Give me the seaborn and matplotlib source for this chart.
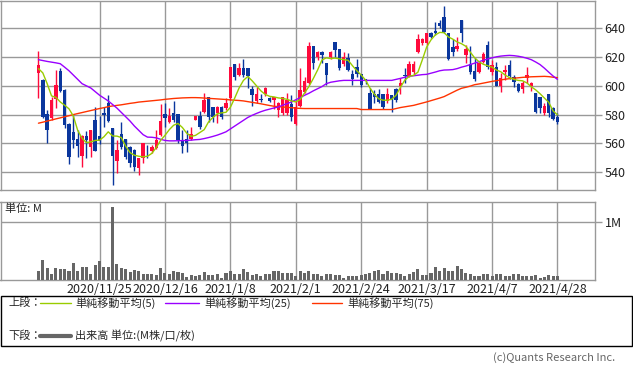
import numpy as np
import pandas as pd
import matplotlib
matplotlib.use("Agg")
import matplotlib.pyplot as plt
import seaborn as sns
from matplotlib.patches import Rectangle
from matplotlib.lines import Line2D

# ---------------- data ----------------
opens = [609.2, 604.1, 580.2, 577.4, 590.6, 610.3, 597.1, 573.5, 567.7, 562.8,
         551.3, 565.2, 557.7, 576.3, 565.0, 581.0, 588.0, 570.5, 547.8, 566.8,
         562.8, 557.7, 555.4, 542.7, 549.6, 555.4, 554.7, 557.0, 565.9, 580.2,
         575.1, 581.0, 580.2, 562.4, 562.8, 562.8, 576.3, 579.1, 582.1, 592.0,
         585.0, 580.9, 585.5, 584.4, 591.8, 615.2, 607.6, 612.4, 612.4, 597.6,
         589.7, 590.4, 594.4, 591.8, 590.2, 583.2, 581.0, 581.0, 587.4, 573.5,
         586.0, 596.0, 601.8, 627.7, 619.8, 623.8, 615.7, 619.8, 630.3, 625.4,
         615.2, 619.1, 608.3, 613.4, 608.3, 604.8, 594.8, 594.4, 594.0, 594.0,
         589.7, 593.7, 597.6, 599.9, 607.0, 606.9, 609.9, 623.3, 629.6, 629.6,
         637.0, 638.1, 643.9, 647.6, 637.0, 627.3, 625.4, 645.8, 621.5, 615.2,
         610.3, 609.9, 616.8, 628.4, 609.9, 613.4, 599.9, 609.9, 614.5, 605.9,
         601.3, 597.6, 605.3, 599.9, 594.8, 592.5, 581.0, 594.4, 584.4, 578.6]
highs = [624.5, 604.5, 583.2, 592.5, 611.0, 612.2, 597.5, 574.0, 579.8, 569.3,
         565.8, 568.6, 569.3, 585.5, 579.0, 585.0, 593.5, 571.0, 562.4, 575.0,
         563.0, 558.0, 556.0, 550.0, 560.5, 558.9, 558.9, 569.3, 587.7, 587.9,
         584.9, 589.7, 580.2, 569.3, 569.3, 571.6, 579.1, 582.3, 594.8, 592.0,
         585.0, 586.0, 586.0, 591.3, 613.4, 615.2, 615.7, 618.7, 612.4, 600.0,
         599.0, 594.4, 599.0, 592.5, 592.5, 588.5, 592.5, 594.8, 593.7, 590.2,
         612.2, 606.4, 630.7, 628.0, 624.0, 624.0, 615.7, 624.5, 630.3, 625.4,
         623.8, 623.0, 611.0, 619.0, 608.5, 605.0, 598.3, 597.0, 597.6, 594.0,
         598.3, 593.7, 598.3, 605.3, 612.7, 617.3, 617.3, 635.8, 633.0, 636.5,
         637.7, 644.6, 645.8, 655.5, 637.0, 632.4, 634.2, 645.8, 628.4, 627.7,
         619.1, 616.8, 623.8, 631.2, 618.0, 616.8, 608.7, 614.5, 618.0, 607.6,
         601.8, 603.4, 613.4, 603.0, 594.8, 592.5, 587.9, 594.4, 585.0, 580.9]
lows = [591.8, 577.5, 560.0, 576.0, 584.4, 596.0, 571.0, 545.7, 556.6, 550.8,
        543.8, 549.6, 550.8, 554.3, 559.5, 571.6, 574.5, 531.1, 539.2, 556.0,
        549.0, 543.8, 540.4, 537.6, 546.0, 549.6, 553.6, 556.0, 565.0, 571.6,
        574.0, 575.0, 560.0, 553.6, 554.0, 562.0, 576.0, 570.0, 581.0, 575.0,
        575.1, 574.4, 577.0, 583.0, 590.2, 604.0, 607.0, 606.0, 598.3, 586.0,
        588.0, 589.0, 593.0, 588.5, 584.0, 578.0, 580.0, 580.0, 575.8, 573.0,
        585.5, 595.0, 601.0, 612.0, 618.0, 615.7, 600.6, 619.0, 620.3, 611.0,
        614.0, 610.0, 600.6, 606.0, 599.0, 601.0, 583.9, 588.0, 588.0, 584.0,
        587.9, 582.1, 589.0, 594.1, 601.8, 606.4, 607.6, 622.6, 628.4, 628.4,
        633.0, 635.4, 640.0, 636.5, 618.0, 620.8, 624.0, 630.5, 615.7, 608.0,
        603.6, 609.2, 616.0, 612.0, 607.6, 599.9, 596.0, 604.1, 605.0, 599.0,
        596.0, 594.8, 602.0, 596.7, 581.0, 581.0, 580.0, 578.6, 576.0, 573.5]
closes = [614.5, 578.6, 569.3, 590.2, 600.6, 596.7, 572.8, 550.8, 562.4, 558.4,
          565.2, 562.4, 569.3, 554.3, 561.5, 579.5, 575.5, 551.3, 555.4, 557.7,
          550.8, 546.2, 543.8, 549.6, 560.0, 555.0, 557.7, 562.4, 575.6, 577.9,
          579.1, 576.3, 562.4, 558.2, 560.5, 566.3, 579.1, 571.6, 590.2, 578.6,
          578.6, 585.0, 578.5, 588.3, 613.4, 606.0, 612.2, 607.6, 606.9, 593.7,
          594.4, 590.0, 598.3, 589.7, 592.5, 588.3, 592.0, 590.2, 578.1, 585.5,
          597.1, 603.4, 627.7, 616.1, 623.8, 621.5, 607.6, 623.8, 624.9, 612.2,
          619.8, 611.0, 604.8, 608.3, 600.6, 603.6, 583.9, 592.0, 589.0, 585.5,
          594.1, 590.2, 590.2, 601.8, 606.9, 615.0, 615.0, 632.6, 632.4, 636.5,
          634.2, 636.5, 641.6, 637.7, 618.5, 623.8, 627.7, 637.0, 625.4, 609.9,
          604.8, 616.1, 622.2, 613.4, 614.5, 599.9, 605.3, 611.0, 606.9, 602.9,
          596.7, 601.8, 607.6, 601.8, 582.1, 584.4, 586.0, 580.9, 576.7, 575.1]
volume_m = [0.16, 0.345, 0.21, 0.10, 0.21, 0.18, 0.18, 0.16, 0.29, 0.16,
            0.23, 0.23, 0.10, 0.26, 0.32, 0.23, 0.23, 1.25, 0.28, 0.20,
            0.18, 0.14, 0.17, 0.16, 0.10, 0.10, 0.10, 0.086, 0.21, 0.126,
            0.10, 0.155, 0.14, 0.126, 0.046, 0.086, 0.07, 0.086, 0.14, 0.08,
            0.09, 0.10, 0.04, 0.115, 0.16, 0.10, 0.10, 0.195, 0.14, 0.08,
            0.10, 0.06, 0.10, 0.10, 0.16, 0.15, 0.126, 0.126, 0.12, 0.07,
            0.155, 0.126, 0.155, 0.10, 0.10, 0.06, 0.10, 0.10, 0.08, 0.08,
            0.04, 0.06, 0.06, 0.07, 0.08, 0.10, 0.115, 0.16, 0.17, 0.10,
            0.155, 0.115, 0.115, 0.10, 0.07, 0.10, 0.14, 0.18, 0.08, 0.08,
            0.115, 0.23, 0.155, 0.20, 0.16, 0.16, 0.24, 0.18, 0.126, 0.10,
            0.07, 0.06, 0.10, 0.10, 0.06, 0.10, 0.10, 0.07, 0.06, 0.10,
            0.10, 0.07, 0.07, 0.07, 0.086, 0.04, 0.046, 0.09, 0.075, 0.07]
ma5 = [612, 609, 601.5, 593, 592, 588.8, 586.5, 584, 579, 569,
       563.5, 560.5, 561, 562, 562.2, 564.5, 568, 565.1, 565, 564,
       558, 553.5, 551.7, 551, 550.6, 551, 553, 557, 562, 565.5,
       569.5, 572.6, 573.8, 571, 567, 564.8, 565.5, 567.5, 569.5, 574.9,
       578, 580.5, 581.2, 581.6, 585, 591.5, 598.5, 603.8, 606.5, 603.5,
       600, 596.5, 594, 592.7, 592.3, 591.6, 591.2, 590.6, 589.5, 588.8,
       590.5, 595, 599.5, 605, 611, 618, 619.5, 619, 619.3, 618.8,
       618.2, 617.8, 614, 610.5, 607.5, 604, 598.5, 594.2, 591, 590,
       590, 590.7, 593.5, 599, 604, 606.6, 607.3, 609.5, 618, 627,
       632, 635.5, 637.2, 637, 634, 632.5, 630.5, 629.3, 627.5, 623.5,
       619.5, 616.8, 615, 614, 613, 611, 609.8, 607.5, 605.7, 604.5,
       603.8, 603.5, 602, 599.3, 597.2, 594.5, 591.5, 588.5, 582.5, 579.8]
ma25 = [618.2, 617.6, 617, 616.5, 616, 615.4, 613, 610.5, 607.5, 604.5,
        601.5, 600, 598.5, 596, 593.5, 591.5, 589.5, 587, 584.5, 581.5,
        578.5, 575.5, 572, 569, 566, 564.3, 564.2, 563.8, 562.8, 562,
        561.7, 561.7, 561.8, 561.9, 562, 562.2, 562.5, 562.7, 563.3, 564,
        564.8, 565.7, 566.8, 568, 570, 572, 574, 576, 578, 579.5,
        580.8, 582, 583, 583.8, 584.6, 585.3, 586.5, 587.6, 588.8, 590.3,
        591.8, 593.4, 594.8, 596.5, 598, 599.5, 601.5, 602.5, 603, 603.5,
        603.8, 603.8, 603.8, 603.8, 603.8, 603.8, 603.8, 603.8, 603.8, 603.8,
        603.8, 603.8, 604.5, 605.2, 606, 606.6, 607, 607.4, 607.8, 608,
        608.8, 609.6, 610.5, 611, 611.1, 611.3, 612, 613, 613.8, 614.8,
        615.8, 616.8, 617.8, 618.7, 619.5, 620.2, 620.7, 621, 621.2, 621,
        620.6, 620, 619.2, 618.2, 616.6, 614.8, 612.3, 609.5, 606.8, 604.5]
ma75 = [574, 574.7, 575.5, 576.2, 577, 577.7, 578.5, 579.2, 580, 580.7,
        581.4, 582.1, 582.8, 583.5, 584.2, 584.8, 585.5, 586, 586.4, 586.8,
        587.3, 587.8, 588.2, 588.7, 589, 589.3, 589.6, 589.9, 590.2, 590.6,
        590.9, 591.2, 591.4, 591.6, 591.7, 591.8, 591.8, 591.7, 591.5, 591.3,
        591.1, 590.9, 590.7, 590.5, 590.2, 590, 589.8, 589.5, 589, 588.5,
        588, 587.5, 586.9, 586.3, 585.8, 585.5, 585.3, 585, 584.8, 584.5,
        584.3, 584.2, 584.2, 584.2, 584.2, 584.2, 584.2, 584.2, 584.2, 584.2,
        584.2, 584.2, 584.2, 584.2, 583.5, 583.5, 583.5, 583.5, 583.5, 583.5,
        583.5, 583.5, 584.2, 584.9, 585.4, 585.9, 586.4, 587.2, 588, 588.8,
        589.7, 590.6, 591.5, 592.5, 594, 595.5, 597, 598.3, 599, 599.8,
        600.8, 601.3, 601.9, 602.5, 603.1, 603.6, 604.1, 604.6, 605, 605.3,
        605.6, 605.9, 606.1, 606.3, 606.4, 606.5, 606.6, 606.4, 606, 605.7]
date_labels = ["2020/11/25", "2020/12/16", "2021/1/8", "2021/2/1",
               "2021/2/24", "2021/3/17", "2021/4/7", "2021/4/28"]
date_positions = [14, 29, 44, 59, 74, 89, 104, 119]
price_ticks = [540, 560, 580, 600, 620, 640]

# ---------------- styling ----------------
sns.set_style("white")
plt.rcParams['font.family'] = ['Noto Sans CJK JP', 'DejaVu Sans']

UP = "#ff0a3c"
DOWN = "#0a369d"
GRID = "#999999"
W, H = 633, 374

def fx(x):
    return x / W

def fy(y):
    return 1 - y / H

fig = plt.figure(figsize=(W / 100, H / 100), dpi=100)
ax = fig.add_axes([fx(0.5), fy(190), (595 - 0.5) / W, 189.5 / H])
axv = fig.add_axes([fx(0.5), fy(280), (595 - 0.5) / W, 78.5 / H])

df = pd.DataFrame({"idx": np.arange(len(closes)), "open": opens, "high": highs,
                   "low": lows, "close": closes, "vol": volume_m,
                   "ma5": ma5, "ma25": ma25, "ma75": ma75})
df["up"] = df["close"] > df["open"]
colors = [UP if u else DOWN for u in df["up"]]
body_bottom = np.minimum(df["open"], df["close"])
body_h = np.maximum(np.abs(df["close"] - df["open"]), 0.5)

XMIN, XMAX = -8.7, 127.6

# grid first
for a in (ax, axv):
    a.set_xlim(XMIN, XMAX)
    a.set_axisbelow(True)

ax.set_ylim(527.5, 659.4)
ax.vlines(df["idx"], df["low"], df["high"], colors=colors, linewidth=1.0, zorder=2)
ax.bar(df["idx"], body_h, bottom=body_bottom, width=0.78, color=colors,
       linewidth=0, zorder=3)

sns.lineplot(x=df["idx"], y=df["ma75"], ax=ax, color="#ff3300", linewidth=1.0, zorder=4)
sns.lineplot(x=df["idx"], y=df["ma25"], ax=ax, color="#9900ff", linewidth=1.0, zorder=4)
sns.lineplot(x=df["idx"], y=df["ma5"], ax=ax, color="#99cc00", linewidth=1.0, zorder=5)

ax.set_xlim(XMIN, XMAX)
ax.set_xticks(date_positions)
ax.set_yticks(price_ticks)
ax.set_yticklabels([str(t) for t in price_ticks])
ax.yaxis.tick_right()
ax.grid(True, color=GRID, linewidth=1.0)
ax.tick_params(axis="x", length=0, labelbottom=False)
ax.tick_params(axis="y", length=5, width=1.0, color=GRID, labelsize=9, pad=2,
               right=True, left=False, labelcolor="#222222")
ax.set_xlabel("")
ax.set_ylabel("")

# volume
sns.barplot(x=df["idx"], y=df["vol"], ax=axv, color="#666666", width=0.7,
            saturation=1, native_scale=True, errorbar=None, linewidth=0, zorder=3)
axv.set_xlim(XMIN, XMAX)
axv.set_ylim(0, 1.345)
axv.set_xticks(date_positions)
axv.set_xticklabels(date_labels)
axv.set_yticks([1.0])
axv.set_yticklabels(["1M"])
axv.yaxis.tick_right()
axv.grid(True, color=GRID, linewidth=1.0)
axv.tick_params(axis="x", length=0, labelsize=9, pad=2, labelcolor="#222222")
axv.tick_params(axis="y", length=5, width=1.0, color=GRID, labelsize=9, pad=2,
                right=True, left=False, labelcolor="#222222")
axv.set_xlabel("")
axv.set_ylabel("")

for a in (ax, axv):
    for s in a.spines.values():
        s.set_color(GRID)
        s.set_linewidth(1.0)
        s.set_visible(True)

fig.text(fx(5), fy(209), "単位: M", fontsize=8, va="center", ha="left", color="#222222")

# legend box
fig.patches.append(Rectangle((fx(0.5), fy(346)), (632 - 0.5) / W, 50 / H,
                             transform=fig.transFigure, fill=False,
                             edgecolor="black", linewidth=1.0))
ly1, ly2 = 303, 336
fig.text(fx(8), fy(ly1), "上段：", fontsize=8, va="center", ha="left")
fig.text(fx(8), fy(ly2), "下段：", fontsize=8, va="center", ha="left")
for (x0, x1, c, lw, y) in [(40, 71, "#99cc00", 1.0, ly1), (165, 199, "#9900ff", 1.0, ly1),
                           (312, 342, "#ff3300", 1.0, ly1), (40, 71, "#666666", 3.0, ly2)]:
    fig.add_artist(Line2D([fx(x0), fx(x1)], [fy(y), fy(y)], transform=fig.transFigure,
                          color=c, linewidth=lw))
fig.text(fx(75), fy(ly1), "単純移動平均(5)", fontsize=8, va="center", ha="left")
fig.text(fx(204), fy(ly1), "単純移動平均(25)", fontsize=8, va="center", ha="left")
fig.text(fx(347), fy(ly1), "単純移動平均(75)", fontsize=8, va="center", ha="left")
fig.text(fx(75), fy(ly2), "出来高 単位:(M株/口/枚)", fontsize=8, va="center", ha="left")

fig.text(fx(615), fy(358), "(c)Quants Research Inc.", fontsize=8, va="center",
         ha="right", color="#666666")

fig.savefig("out.png", dpi=100)
